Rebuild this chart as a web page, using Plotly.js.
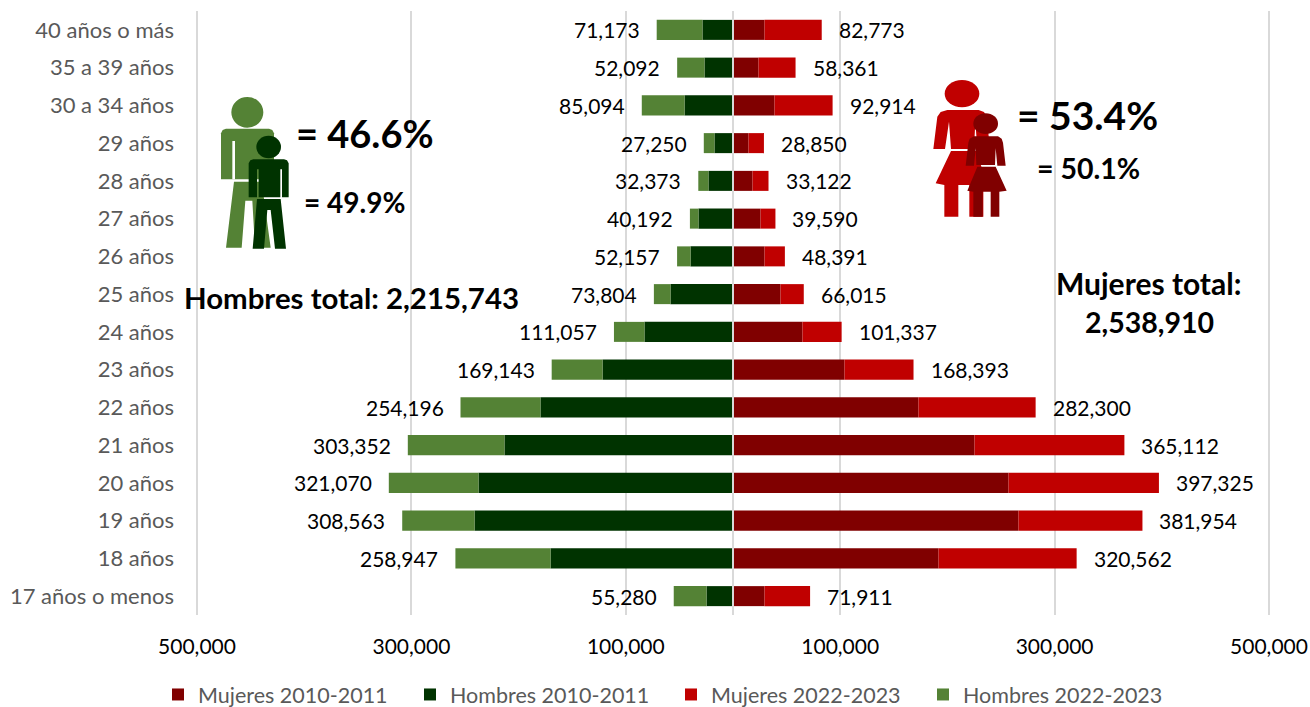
<!DOCTYPE html>
<html><head><meta charset="utf-8">
<script src="https://cdn.plot.ly/plotly-3.0.1.min.js"></script>
<style>html,body{margin:0;padding:0;background:#fff}#c{width:1310px;height:707px}</style>
</head><body><div id="c"></div>
<script>
const categories = ["17 años o menos","18 años","19 años","20 años","21 años","22 años","23 años","24 años","25 años","26 años","27 años","28 años","29 años","30 a 34 años","35 a 39 años","40 años o más"];
const hombresTotal = [55280,258947,308563,321070,303352,254196,169143,111057,73804,52157,40192,32373,27250,85094,52092,71173];
const mujeresTotal = [71911,320562,381954,397325,365112,282300,168393,101337,66015,48391,39590,33122,28850,92914,58361,82773];
const hombres2010 = [24700,170200,241100,237400,213200,179600,121700,82600,58300,39600,32200,22900,17300,45200,26600,28500];
const mujeres2010 = [29400,191700,266300,257000,225300,173000,104000,64800,44300,29400,25700,18200,14500,38700,23800,29400];
const hombres2022 = hombresTotal.map((v,i)=>v-hombres2010[i]);
const mujeres2022 = mujeresTotal.map((v,i)=>v-mujeres2010[i]);
const xTicks = [-500000,-300000,-100000,100000,300000,500000];
const xTickText = ["500,000","300,000","100,000","100,000","300,000","500,000"];
const fmt = v => v.toLocaleString("en-US");

const F = "Lato, 'Open Sans', sans-serif";
const L=195,T=11,W=1076,H=604;
const px = x => (x-L)/W, py = y => (T+H-y)/H;

function poly(pts){return "M"+pts.map(p=>px(p[0])+","+py(p[1])).join("L")+"Z";}
const zm = (ox,oy)=>pts=>pts.map(p=>[ox+p[0]/3,oy+p[1]/3]);
const zA = zm(180,80), zB = zm(900,70);
function shp(path,color){return {type:"path",xref:"paper",yref:"paper",path,fillcolor:color,line:{width:0},layer:"above"};}
function ell(z,cx,cy,rx,ry,color){const c=z([[cx,cy],[cx+rx,cy+ry]]);
  return {type:"circle",xref:"paper",yref:"paper",x0:px(2*c[0][0]-c[1][0]),x1:px(c[1][0]),y0:py(2*c[0][1]-c[1][1]),y1:py(c[1][1]),fillcolor:color,line:{width:0},layer:"above"};}
const G1="#548235",G2="#003300",R1="#C00000",R2="#800000";
const icons=[
 ell(zA,202,97,48,46,G1),
 shp(poly(zA([[123,160],[128,150],[138,146],[267,146],[277,150],[282,160],[282,298],[123,298]])),G1),
 shp(poly(zA([[157,183],[165,183],[165,298],[157,298]])),"#ffffff"),
 shp(poly(zA([[162,305],[245,305],[272,503],[225,503],[217,362],[196,362],[185,503],[138,503]])),G1),
 ell(zA,266,201,37,34,G2),
 shp(poly(zA([[206,250],[211,241],[220,238],[312,238],[321,241],[326,250],[326,352],[306,352],[306,268],[301,268],[301,352],[236,352],[236,268],[231,268],[231,352],[206,352]])),G2),
 shp(poly(zA([[231,357],[302,357],[318,506],[285,506],[272,390],[262,390],[252,506],[218,506]])),G2),
 ell(zB,186,71,52,41,R1),
 shp(poly(zB([[142,120],[236,120],[252,126],[260,140],[270,237],[232,237],[226,155],[222,237],[153,237],[147,155],[135,237],[100,237],[112,140],[122,126]])),R1),
 shp(poly(zB([[153,243],[228,243],[262,342],[250,345],[250,440],[208,440],[208,345],[175,345],[175,440],[133,440],[133,345],[107,340]])),R1),
 ell(zB,257,161,37,31,R2),
 shp(poly(zB([[222,199],[294,199],[305,206],[309,218],[317,287],[292,287],[287,235],[285,285],[229,285],[227,235],[222,287],[197,287],[205,218],[209,206]])),R2),
 shp(poly(zB([[232,290],[287,290],[320,362],[298,365],[298,440],[272,440],[272,365],[248,365],[248,440],[220,440],[220,365],[202,362]])),R2)
];

const traces=[
 {name:"Mujeres 2010-2011",x:mujeres2010,color:R2,w:207},
 {name:"Hombres 2010-2011",x:hombres2010.map(v=>-v),color:G2,w:216},
 {name:"Mujeres 2022-2023",x:mujeres2022,color:R1,w:207},
 {name:"Hombres 2022-2023",x:hombres2022.map(v=>-v),color:G1,w:216}
].map(t=>({type:"bar",orientation:"h",name:t.name,x:t.x,y:categories,marker:{color:t.color,line:{width:0}},legendwidth:t.w,hoverinfo:"name+x+y"}));

const lbl=(x,y,text,size,extra)=>Object.assign({xref:"paper",yref:"paper",x:px(x),y:py(y),text,showarrow:false,xanchor:"left",yanchor:"middle",font:{family:F,size,color:"#000"}},extra||{});
const annotations=[];
categories.forEach((c,i)=>{
 annotations.push({xref:"x",yref:"y",x:-hombresTotal[i],y:c,text:fmt(hombresTotal[i]),showarrow:false,xanchor:"right",yanchor:"middle",xshift:-15,font:{family:F,size:21,color:"#000"}});
 annotations.push({xref:"x",yref:"y",x:mujeresTotal[i],y:c,text:fmt(mujeresTotal[i]),showarrow:false,xanchor:"left",yanchor:"middle",xshift:15,font:{family:F,size:21,color:"#000"}});
});
annotations.push(
 lbl(294,133,"<b>= 46.6%</b>",38),
 lbl(302,202,"<b>= 49.9%</b>",28),
 lbl(1015,115,"<b>= 53.4%</b>",39),
 lbl(1035,168,"<b>= 50.1%</b>",28.5),
 lbl(182,297,"<b>Hombres total: 2,215,743</b>",29.4),
 lbl(1148,283,"<b>Mujeres total:</b>",30,{xanchor:"center"}),
 lbl(1149,322,"<b>2,538,910</b>",28.5,{xanchor:"center"})
);

const layout={
 width:1310,height:707,margin:{l:L,r:1310-L-W,t:T,b:707-T-H,pad:0,autoexpand:false},
 paper_bgcolor:"#fff",plot_bgcolor:"#fff",barmode:"relative",bargap:0.47,
 font:{family:F,color:"#000"},
 xaxis:{range:[-500000*W/1072,500000*W/1072],tickvals:xTicks,ticktext:xTickText,tickmode:"array",showgrid:true,gridcolor:"#D9D9D9",gridwidth:2,zeroline:false,showline:false,ticks:"",ticklabelstandoff:17,tickfont:{family:F,size:21,color:"#000"}},
 yaxis:{type:"category",categoryorder:"array",categoryarray:categories,showgrid:false,zeroline:false,showline:false,ticks:"",ticklabelstandoff:20,tickfont:{family:F,size:22,color:"#595959"}},
 legend:{orientation:"h",x:px(158),y:py(674),xanchor:"left",yanchor:"top",font:{family:F,size:21.5,color:"#595959"},traceorder:"normal",bgcolor:"rgba(0,0,0,0)"},
 shapes:[{type:"line",xref:"x",yref:"paper",x0:0,x1:0,y0:0,y1:1,line:{color:"#D9D9D9",width:2},layer:"above"}].concat(icons),
 annotations
};
Plotly.newPlot("c",traces,layout,{displayModeBar:false,responsive:false});
</script></body></html>
